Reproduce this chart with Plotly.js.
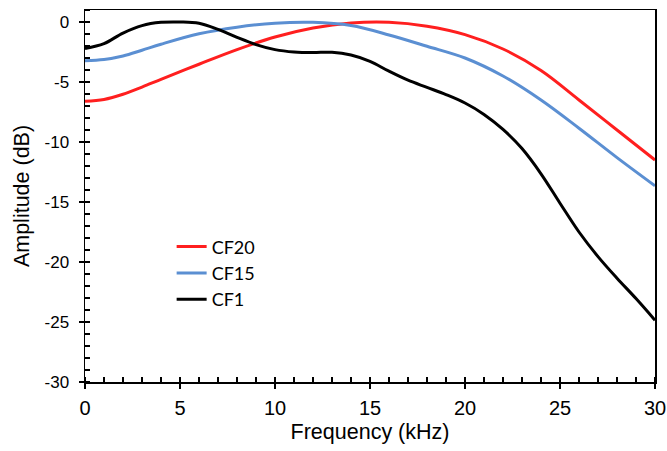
<!DOCTYPE html>
<html>
<head>
<meta charset="utf-8">
<script src="https://cdn.plot.ly/plotly-3.0.1.min.js"></script>
<style>
html,body{margin:0;padding:0;background:#fff;}
#chart{width:667px;height:451px;}
</style>
</head>
<body>
<div id="chart"></div>
<script>
// Frequency (kHz) sample points
const freqCF20 = [0,1,2,3,4,6,8,10,12,14,16,18,20,22,24,26,28,30];
const freqCF15 = [0,1,2,3,4,6,8,10,12,14,16,18,20,22,24,26,28,30];
const freqCF1 = [0,1,2,3,4,5,6,7,8,9,10,11,12,13,14,15,16,17,18,19,20,21,22,23,24,25,26,27,28,29,30];
// Amplitude (dB)
const ampCF20 = [-6.6,-6.45,-6.02,-5.42,-4.78,-3.52,-2.3,-1.25,-0.5,-0.08,-0.02,-0.35,-1.05,-2.25,-4.05,-6.5,-9.0,-11.5];
const ampCF15 = [-3.22,-3.12,-2.83,-2.35,-1.85,-0.98,-0.43,-0.1,-0.03,-0.3,-1.08,-2.02,-3.0,-4.5,-6.5,-8.85,-11.3,-13.65];
const ampCF1 = [-2.2,-1.8,-0.92,-0.3,-0.03,0,-0.1,-0.62,-1.28,-1.88,-2.3,-2.5,-2.55,-2.52,-2.75,-3.28,-4.1,-4.85,-5.45,-6.05,-6.75,-7.7,-8.95,-10.55,-12.65,-15.1,-17.5,-19.55,-21.35,-23.05,-24.85];
const seriesNames = ['CF20','CF15','CF1'];
const xTickVals = [0,5,10,15,20,25,30];
const yTickVals = [-30,-25,-20,-15,-10,-5,0];

const colors = ['#FF1F1F','#5B8FD2','#000000'];
const xs = [freqCF20, freqCF15, freqCF1];
const ys = [ampCF20, ampCF15, ampCF1];

const traces = ys.map((y,i)=>({
  x: xs[i], y: y, type:'scatter', mode:'lines', name: seriesNames[i],
  line:{color:colors[i], width:3, shape:'spline', smoothing:1}
}));
// helper traces so the overlay axes (inner half of major ticks) get drawn
traces.push({x:[], y:[], xaxis:'x2', yaxis:'y', showlegend:false, hoverinfo:'skip', type:'scatter'});
traces.push({x:[], y:[], xaxis:'x', yaxis:'y2', showlegend:false, hoverinfo:'skip', type:'scatter'});

const axisFont = {family:'Liberation Sans, Arial, sans-serif', color:'#000'};

const layout = {
  width:667, height:451,
  margin:{l:85, r:12, t:10, b:69},
  paper_bgcolor:'#fff', plot_bgcolor:'#fff',
  showlegend:true,
  legend:{x:0.152, y:0.413, xanchor:'left', yanchor:'top', bgcolor:'rgba(0,0,0,0)',
    font:{family:'Lato, Open Sans, sans-serif', size:18, color:'#000'}},
  xaxis:{
    range:[0,30], tickmode:'array', tickvals:xTickVals, ticktext:xTickVals.map(String),
    ticks:'outside', ticklen:5, tickwidth:1.5, tickcolor:'#000',
    showline:true, linewidth:1.5, linecolor:'#000', mirror:true,
    showgrid:false, zeroline:false,
    minor:{ticks:'inside', dtick:1, tick0:0, ticklen:5, tickwidth:1.2, tickcolor:'#000', showgrid:false},
    tickfont:Object.assign({size:20}, axisFont),
    ticklabelstandoff:2,
    title:{text:'Frequency (kHz)', font:Object.assign({size:21.5}, axisFont), standoff:6}
  },
  yaxis:{
    range:[-30,1], tickmode:'array', tickvals:yTickVals, ticktext:yTickVals.map(String),
    ticks:'outside', ticklen:5, tickwidth:1.5, tickcolor:'#000',
    showline:true, linewidth:1.5, linecolor:'#000', mirror:true,
    showgrid:false, zeroline:false,
    minor:{ticks:'inside', dtick:1, tick0:-30, ticklen:5, tickwidth:1.2, tickcolor:'#000', showgrid:false},
    tickfont:Object.assign({size:17}, axisFont),
    ticklabelstandoff:6,
    title:{text:'Amplitude (dB)', font:Object.assign({size:21.5}, axisFont), standoff:9}
  },
  xaxis2:{
    overlaying:'x', anchor:'y', side:'bottom', range:[0,30], tickmode:'array', tickvals:xTickVals,
    ticks:'inside', ticklen:5, tickwidth:1.5, tickcolor:'#000', showticklabels:false,
    showline:false, showgrid:false, zeroline:false
  },
  yaxis2:{
    overlaying:'y', anchor:'x', side:'left', range:[-30,1], tickmode:'array', tickvals:yTickVals,
    ticks:'inside', ticklen:5, tickwidth:1.5, tickcolor:'#000', showticklabels:false,
    showline:false, showgrid:false, zeroline:false
  }
};

Plotly.newPlot('chart', traces, layout, {staticPlot:true, displayModeBar:false});
</script>
</body>
</html>
